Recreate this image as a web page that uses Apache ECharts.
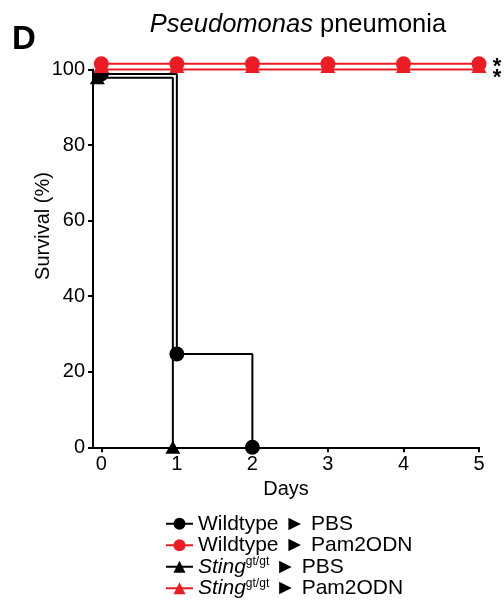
<!DOCTYPE html>
<html>
<head>
<meta charset="utf-8">
<script src="https://cdn.jsdelivr.net/npm/echarts@6/dist/echarts.min.js"></script>
<style>
  html, body { margin: 0; padding: 0; background: #fff; }
  #chart { width: 504px; height: 600px; }
</style>
</head>
<body>
<div id="chart"></div>
<script>
const FONT = "'Liberation Sans', Arial, sans-serif"
const RED = '#ED1C24'

const dayTicks = [0, 1, 2, 3, 4, 5]

// survival per group (Kaplan-Meier steps)
const wtPbsDays = [0, 1, 2]
const wtPbsSurvival = [100, 25, 0]
const wtPamDays = [0, 1, 2, 3, 4, 5]
const wtPamSurvival = [100, 100, 100, 100, 100, 100]
const stingPbsDays = [0, 1]
const stingPbsSurvival = [100, 0]
const stingPamDays = [0, 1, 2, 3, 4, 5]
const stingPamSurvival = [100, 100, 100, 100, 100, 100]

const zip = (xs, ys) => xs.map((x, i) => [x, ys[i]])

function km(name, days, surv, color, symbol, extra) {
  return Object.assign({
    type: 'line',
    name: name,
    step: 'end',
    data: zip(days, surv),
    symbol: symbol,
    symbolSize: symbol === 'circle' ? 15 : [15, 13],
    showAllSymbol: true,
    clip: false,
    color: color,
    lineStyle: { width: 2, color: color },
    itemStyle: { color: color },
    animation: false
  }, extra)
}

const chart = echarts.init(document.getElementById('chart'))

chart.setOption({
  textStyle: { fontFamily: FONT },
  grid: { left: 93, right: 25, top: 69.5, bottom: 152.7 },
  xAxis: [{
    type: 'value',
    min: -0.11,
    max: 5,
    axisLine: { onZero: false, lineStyle: { color: '#000', width: 2 } },
    axisTick: { customValues: dayTicks, length: 5, lineStyle: { color: '#000', width: 2 } },
    axisLabel: { customValues: dayTicks, fontSize: 20, margin: 7, color: '#000', fontFamily: FONT },
    splitLine: { show: false },
    name: 'Days',
    nameLocation: 'middle',
    nameGap: 30,
    nameTextStyle: { fontSize: 20, color: '#000', fontFamily: FONT }
  }, {
    // Prism-style nudge so overlapping curves stay visible
    type: 'value', show: false, min: -0.057, max: 5.053
  }],
  yAxis: [{
    type: 'value',
    min: 0,
    max: 100,
    interval: 20,
    axisLine: { show: true, onZero: false, lineStyle: { color: '#000', width: 2 } },
    axisTick: { show: true, length: 5, lineStyle: { color: '#000', width: 2 } },
    axisLabel: { fontSize: 20, margin: 8, color: '#000', fontFamily: FONT },
    splitLine: { show: false }
  },
  { type: 'value', show: false, min: -1.5, max: 98.5 },
  { type: 'value', show: false, min: 0, max: 101.2 },
  { type: 'value', show: false, min: 0, max: 102.2 }],
  legend: {
    orient: 'vertical',
    left: 165,
    top: 513,
    padding: 0,
    itemWidth: 27,
    itemHeight: 15,
    itemGap: 0,
    data: ['Wildtype ► PBS', 'Wildtype ► Pam2ODN', 'Sting ► PBS', 'Sting ► Pam2ODN'],
    formatter: name => name.replace('Sting', '{i|Sting}{s|gt/gt}'),
    textStyle: {
      fontFamily: FONT,
      fontSize: 21,
      lineHeight: 21.5,
      color: '#000',
      rich: {
        i: { fontFamily: FONT, fontSize: 21, fontStyle: 'italic', color: '#000' },
        s: { fontFamily: FONT, fontSize: 12, verticalAlign: 'top', color: '#000', padding: [0, 0, 6, 0] }
      }
    }
  },
  graphic: [
    { type: 'text', x: 12, y: 40, style: { text: 'D', fontFamily: FONT, fontSize: 33, fontWeight: 'bold', fill: '#000', verticalAlign: 'middle' } },
    { type: 'text', x: 298, y: 25, style: {
      text: '{i|Pseudomonas} pneumonia', fontFamily: FONT, fontSize: 25.5, fill: '#000',
      align: 'center', verticalAlign: 'middle',
      rich: { i: { fontFamily: FONT, fontSize: 25.5, fontStyle: 'italic', fill: '#000' } }
    } },
    { type: 'text', x: 43, y: 226, rotation: Math.PI / 2, style: { text: 'Survival (%)', fontFamily: FONT, fontSize: 20, fill: '#000', align: 'center', verticalAlign: 'middle' } },
    { type: 'text', x: 497, y: 67, style: { text: '*', fontFamily: FONT, fontSize: 22, fontWeight: 'bold', fill: '#000', align: 'center', verticalAlign: 'middle' } },
    { type: 'text', x: 497, y: 78, style: { text: '*', fontFamily: FONT, fontSize: 22, fontWeight: 'bold', fill: '#000', align: 'center', verticalAlign: 'middle' } }
  ],
  series: [
    km('Wildtype ► PBS', wtPbsDays, wtPbsSurvival, '#000', 'circle', { yAxisIndex: 2, z: 3 }),
    km('Wildtype ► Pam2ODN', wtPamDays, wtPamSurvival, RED, 'circle', { yAxisIndex: 1, z: 6 }),
    km('Sting ► PBS', stingPbsDays, stingPbsSurvival, '#000', 'triangle', { xAxisIndex: 1, yAxisIndex: 3, z: 2 }),
    km('Sting ► Pam2ODN', stingPamDays, stingPamSurvival, RED, 'triangle', { z: 5, symbolOffset: [0, -3] })
  ]
})
</script>
</body>
</html>
